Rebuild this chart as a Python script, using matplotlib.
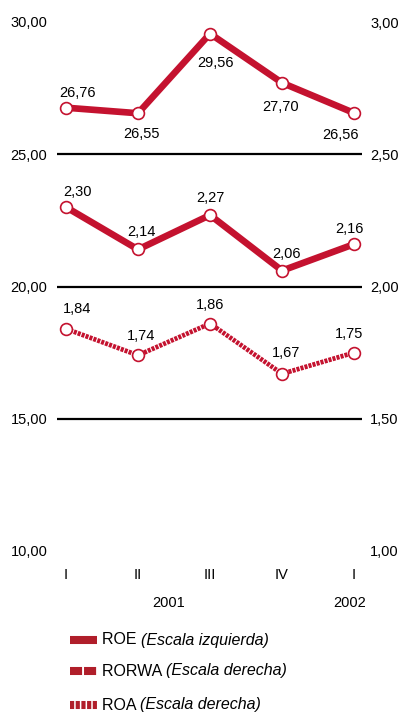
import matplotlib
matplotlib.use('Agg')
import matplotlib.pyplot as plt
from matplotlib.lines import Line2D

plt.rcParams['font.family'] = ['Liberation Sans', 'DejaVu Sans']
plt.rcParams['lines.scale_dashes'] = False

# Data
quarters = ['I', 'II', 'III', 'IV', 'I']
years = ['2001', '2002']
roe = [26.76, 26.55, 29.56, 27.70, 26.56]      # left axis
rorwa = [2.30, 2.14, 2.27, 2.06, 2.16]         # right axis
roa = [1.84, 1.74, 1.86, 1.67, 1.75]           # right axis
left_ticks = [10, 15, 20, 25, 30]
right_ticks = [1.0, 1.5, 2.0, 2.5, 3.0]
grid_levels = [15, 20, 25]

RED = '#C4122F'
LEG_RED = '#B01E2A'
W, H = 402, 716
FS = 10.5

fig = plt.figure(figsize=(W / 100, H / 100), dpi=100)
ax = fig.add_axes([57 / W, 1 - 551 / H, (362 - 57) / W, (551 - 22) / H])
ax2 = ax.twinx()

x = list(range(len(quarters)))

for g in grid_levels:
    ax.axhline(g, color='black', lw=1.6, zorder=1)

mk = dict(marker='o', markersize=8.5, markerfacecolor='white',
          markeredgecolor=RED, markeredgewidth=1.2)
ax.plot(x, roe, color=RED, lw=4.8, zorder=3, **mk)
ax2.plot(x, rorwa, color=RED, lw=4.8, zorder=3, **mk)
ax2.plot(x, roa, color=RED, lw=3.4, dashes=(2.2, 0.8), zorder=3, **mk)

def fmt(v):
    return f'{v:.2f}'.replace('.', ',')

# label offsets in pixels (layout only)
roe_off = [(11, 15), (3, -21), (5, -29), (-1, -24), (-14, -22)]
rorwa_off = [(11, 15), (3, 17), (0, 17), (4, 17), (-5, 15)]
roa_off = [(11, 20), (3, 19), (0, 19), (4, 21), (-5, 19)]

for axis, vals, offs in [(ax, roe, roe_off), (ax2, rorwa, rorwa_off), (ax2, roa, roa_off)]:
    for xi, v, (dx, dy) in zip(x, vals, offs):
        axis.annotate(fmt(v), (xi, v), xytext=(dx, dy), textcoords='offset pixels',
                      ha='center', va='center', fontsize=FS, zorder=5)

ax.set_xlim(-0.125, 4.11)
ax.set_ylim(10, 30)
ax2.set_ylim(1, 3)
ax.set_yticks(left_ticks)
ax.set_yticklabels([fmt(t) for t in left_ticks])
ax2.set_yticks(right_ticks)
ax2.set_yticklabels([fmt(t) for t in right_ticks])
ax.set_xticks(x)
ax.set_xticklabels(quarters)

ax.tick_params(axis='y', length=0, pad=7, labelsize=FS)
ax2.tick_params(axis='y', length=0, pad=6, labelsize=FS)
ax.tick_params(axis='x', length=0, pad=12, labelsize=FS)
for a in (ax, ax2):
    for s in a.spines.values():
        s.set_visible(False)

# year labels
ax.annotate(years[0], (1.42, 0), xycoords=('data', 'axes fraction'),
            xytext=(0, -52), textcoords='offset pixels', ha='center', va='center', fontsize=FS)
ax.annotate(years[1], (3.94, 0), xycoords=('data', 'axes fraction'),
            xytext=(0, -52), textcoords='offset pixels', ha='center', va='center', fontsize=FS)

# legend (drawn by hand)
leg = [
    ('ROE', '(Escala izquierda)', 640, None),
    ('RORWA', '(Escala derecha)', 671, (8.7, 1.4)),
    ('ROA', '(Escala derecha)', 705, (3.0, 1.1)),
]
renderer = fig.canvas.get_renderer()
for name, scale, yy, dash in leg:
    yf = 1 - yy / H
    ln = Line2D([70 / W, 97 / W], [yf, yf], color=LEG_RED, lw=5.8, solid_capstyle='butt',
                dash_capstyle='butt', transform=fig.transFigure)
    if dash:
        ln.set_dashes(dash)
    fig.add_artist(ln)
    t = fig.text(102 / W, yf, name + ' ', ha='left', va='center', fontsize=11.5)
    bb = t.get_window_extent(renderer)
    fig.text(bb.x1 / W, yf, scale, ha='left', va='center', fontsize=11.5, style='italic')

fig.savefig('out.png', dpi=100)
